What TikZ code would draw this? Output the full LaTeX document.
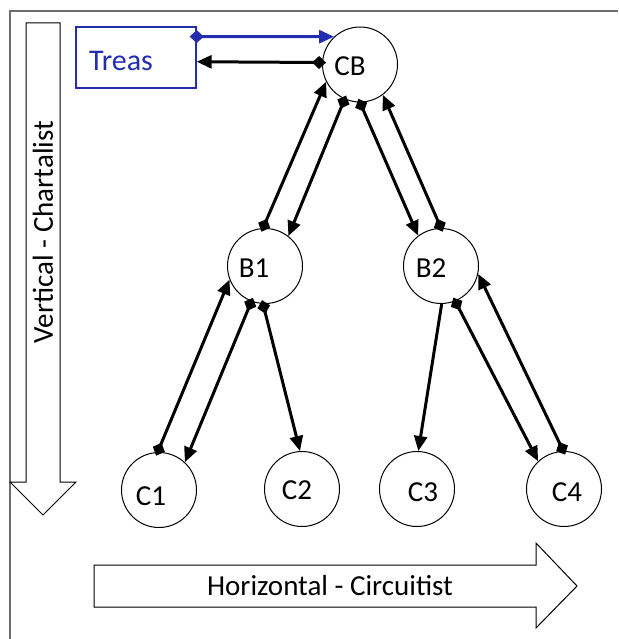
\documentclass[tikz,border=0pt]{standalone}
\usepackage{fontspec}
\setmainfont{Carlito}
\usetikzlibrary{arrows.meta}
\definecolor{treasblue}{RGB}{35,45,175}
\definecolor{framegray}{RGB}{110,110,110}
\tikzset{
  circ/.style={circle, draw, line width=1pt, minimum size=75pt, inner sep=0pt},
  circtext/.style={font=\fontsize{29}{32}\selectfont, inner sep=0pt},
  flow/.style={line width=3pt, shorten <=-4pt,
    {Diamond[length=14pt,width=13pt]}-{Triangle[length=15pt,width=13pt]}},
  plainflow/.style={line width=3pt, -{Triangle[length=15pt,width=13pt]}},
  bigarrow/.style={draw, line width=1pt, fill=white},
  arrowtext/.style={font=\fontsize{29}{32}\selectfont, inner sep=0pt}
}
\begin{document}
\begin{tikzpicture}[x=1pt, y=-1pt]
\useasboundingbox (0,0) rectangle (618,639);
% frame
\draw[framegray, line width=1.5pt] (10,639) -- (10,11) -- (618,11);

% vertical direction arrow
\draw[bigarrow] (26,23) -- (60,23) -- (60,482) -- (76,482) -- (43,515)
  -- (10,482) -- (26,482) -- cycle;
\node[arrowtext, rotate=90] (vlab) at (43,232) {Vertical - Chartalist};

% horizontal direction arrow
\draw[bigarrow] (94,565) -- (536,565) -- (536,543) -- (577,586) -- (536,628)
  -- (536,607) -- (94,607) -- cycle;
\node[arrowtext] (hlab) at (330,586) {Horizontal - Circuitist};

% treasury
\node[draw=treasblue, line width=1.4pt, minimum width=120pt, minimum height=61pt,
  inner sep=0pt] (Treas) at (136,57.5) {};
\node[circtext, text=treasblue, font=\fontsize{30}{32}\selectfont] (Treast) at (121,61) {Treas};

% banks
\node[circ] (CB) at (360,64.5) {};
\node[circtext] (CBt) at (350,66) {CB};
\node[circ] (B1) at (265,266) {};
\node[circtext] (B1t) at (254,268) {B1};
\node[circ] (B2) at (441,266) {};
\node[circtext] (B2t) at (431,268) {B2};
\node[circ] (C1) at (159,490) {};
\node[circtext] (C1t) at (151,496) {C1};
\node[circ] (C2) at (302,489) {};
\node[circtext] (C2t) at (297,490) {C2};
\node[circ] (C3) at (417,489) {};
\node[circtext] (C3t) at (423,492) {C3};
\node[circ] (C4) at (564,489) {};
\node[circtext] (C4t) at (567,492) {C4};

% treasury <-> central bank
\draw[flow, treasblue, shorten <=-7pt] (Treas.19) -- (CB.133);
\draw[flow] (CB.177) -- (Treas.356);

% central bank <-> banks
\draw[flow] (B1.93) -- (CB.207);
\draw[flow] (CB.246) -- (B1.52);
\draw[flow] (CB.270) -- (B2.127);
\draw[flow] (B2.90) -- (CB.307);

% banks <-> customers
\draw[flow] (C1.92) -- (B1.201);
\draw[flow] (B1.249) -- (C1.47);
\draw[flow] (B1.267) -- (C2.93);
\draw[plainflow] (B2.271) -- (C3.88);
\draw[flow] (B2.292) -- (C4.133);
\draw[flow] (C4.91) -- (B2.348);
\end{tikzpicture}
\end{document}
